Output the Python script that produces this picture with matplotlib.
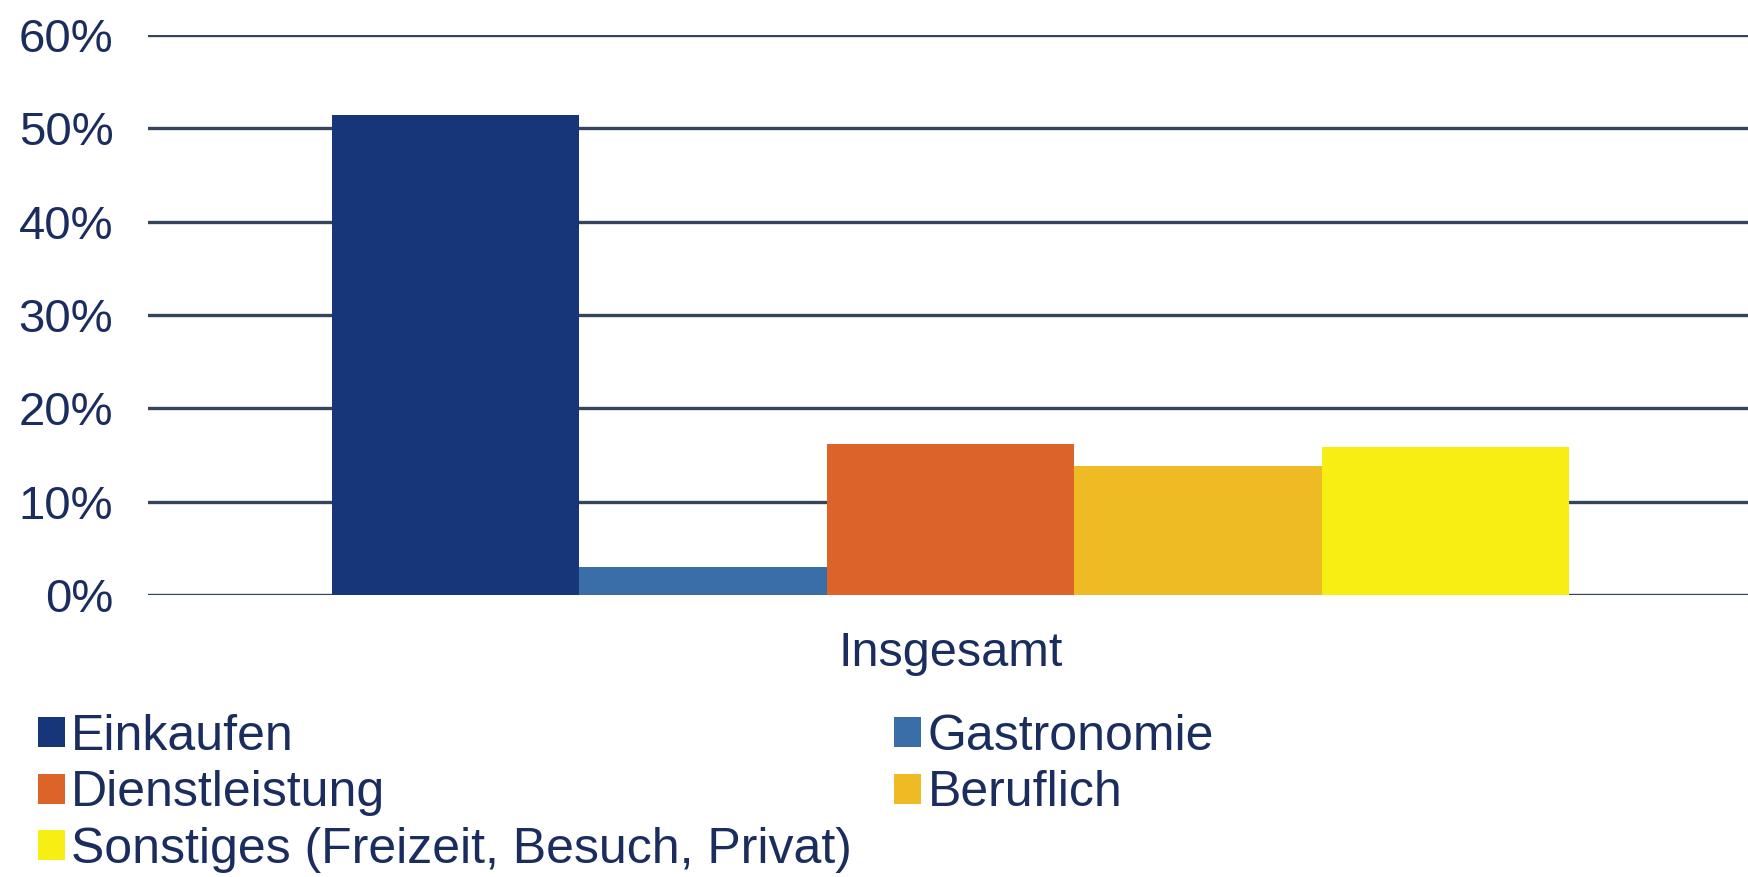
import numpy as np
import matplotlib
matplotlib.use('Agg')
import matplotlib.pyplot as plt

# ---- Data ----
categories = ['Einkaufen', 'Gastronomie', 'Dienstleistung', 'Beruflich',
              'Sonstiges (Freizeit, Besuch, Privat)']
values = [51.4, 3.0, 16.2, 13.8, 15.9]
group_label = 'Insgesamt'
y_ticks = [0, 10, 20, 30, 40, 50, 60]

colors = ['#17367a', '#3a6ea8', '#dc6428', '#eebb25', '#f7ee14']
text_col = '#1b2d5e'
grid_col = '#34445a'

plt.rcParams['font.family'] = ['Liberation Sans', 'DejaVu Sans']

fig = plt.figure(figsize=(17.49, 8.77), dpi=100)
ax = fig.add_axes([0.0846, 0.3216, 0.9154, 0.6385])

x = np.arange(len(categories))
bars = ax.bar(x, values, width=1.0, color=colors, label=categories, zorder=3)

ax.set_xlim(-1.244, 5.227)
ax.set_ylim(0, 60)
ax.set_yticks(y_ticks, [f'{t}%' for t in y_ticks])
ax.set_xticks([x.mean()], [group_label])
ax.tick_params(axis='y', length=0, pad=25, labelsize=34, labelcolor=text_col)
ax.tick_params(axis='x', length=0, pad=26, labelsize=35, labelcolor=text_col)
for s in ax.spines.values():
    s.set_visible(False)
ax.yaxis.grid(True, color=grid_col, linewidth=2.4, zorder=0)
ax.set_axisbelow(True)

# legend: row-major order in two columns
order = [0, 2, 4, 1, 3]
handles = [bars[i] for i in order]
labels = [categories[i] for i in order]
fig.legend(handles, labels, loc='upper left', bbox_to_anchor=(0.0215, 0.186),
           ncol=2, frameon=False, fontsize=36, labelcolor=text_col,
           handlelength=0.54, handleheight=0.54, handletextpad=0.12,
           columnspacing=0.86, labelspacing=0.21, borderpad=0, borderaxespad=0)

fig.savefig('out.png', dpi=100)
